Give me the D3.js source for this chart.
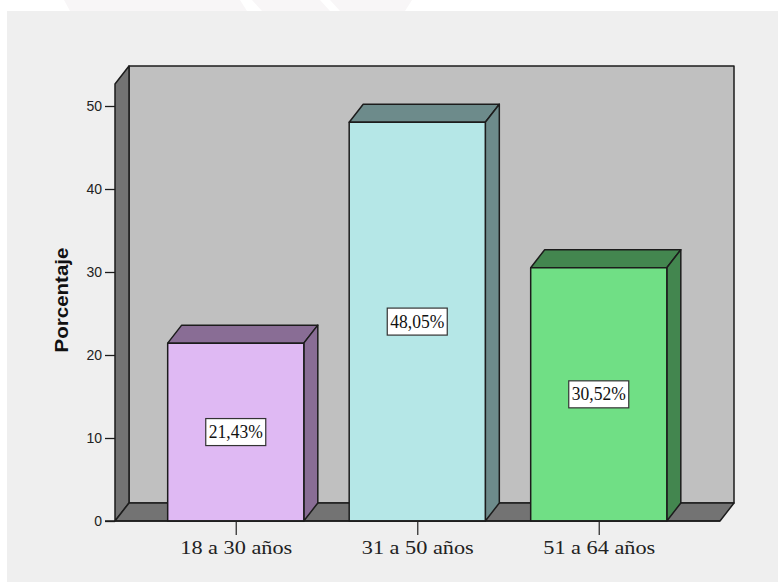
<!DOCTYPE html>
<html>
<head>
<meta charset="utf-8">
<script src="https://cdn.jsdelivr.net/npm/d3@7"></script>
<style>
body { margin: 0; background: #fff; }
svg { display: block; }
</style>
</head>
<body>
<div class="canva"></div>
<script>
const categories = ['18 a 30 años', '31 a 50 años', '51 a 64 años'];
const values = [21.43, 48.05, 30.52];
const valueLabels = ['21,43%', '48,05%', '30,52%'];
const frontColors = ['#dfb9f3', '#b5e7e7', '#70df85'];
const sideColors = ['#896d95', '#6d8b8b', '#43864f'];
const topColors = ['#896d95', '#6d8b8b', '#43864f'];
const yTicks = [0, 10, 20, 30, 40, 50];
const yMax = 50;

// 3d offset of the back wall
const dx = 14, dy = 18;
const lineColor = '#1c1c1c';

const svg = d3.select('.canva').append('svg')
  .attr('width', 778)
  .attr('height', 582);

// page background
svg.append('rect').attr('x', 7).attr('y', 11).attr('width', 771).attr('height', 571).attr('fill', '#efefef');
svg.append('path').attr('d', 'M64 0H240L247 11H70Z M252 0H320L330 11H262Z M330 0H412L405 11H340Z').attr('fill', '#f8f6f7');

const x = d3.scaleBand().domain(categories).range([145, 689.5]).paddingInner(0.25).paddingOuter(0.125);
const y = d3.scaleLinear().domain([0, yMax]).range([521, 106]);

const plotLeft = 115, plotRight = 720, base = y(0), plotTop = 84;

// walls
const walls = svg.append('g').attr('stroke', lineColor).attr('stroke-width', 1.5).attr('stroke-linejoin', 'round');
walls.append('rect')
  .attr('x', plotLeft + dx).attr('y', plotTop - dy)
  .attr('width', plotRight - plotLeft).attr('height', base - plotTop)
  .attr('fill', '#c0c0c0');
walls.append('path')
  .attr('d', `M${plotLeft} ${base}V${plotTop}L${plotLeft + dx} ${plotTop - dy}V${base - dy}Z`)
  .attr('fill', '#737373');
walls.append('path')
  .attr('d', `M${plotLeft} ${base}L${plotLeft + dx} ${base - dy}H${plotRight + dx}L${plotRight} ${base}Z`)
  .attr('fill', '#737373');

// bars
const bars = svg.append('g').selectAll('g')
  .data(values)
  .enter().append('g')
  .attr('stroke', lineColor)
  .attr('stroke-width', 1.5)
  .attr('stroke-linejoin', 'round');

bars.append('path')
  .attr('fill', (d, i) => topColors[i])
  .attr('d', (d, i) => {
    const x0 = x(categories[i]), w = x.bandwidth(), yy = y(d);
    return `M${x0} ${yy}L${x0 + dx} ${yy - dy}H${x0 + w + dx}L${x0 + w} ${yy}Z`;
  });
bars.append('path')
  .attr('fill', (d, i) => sideColors[i])
  .attr('d', (d, i) => {
    const x1 = x(categories[i]) + x.bandwidth(), yy = y(d);
    return `M${x1} ${yy}L${x1 + dx} ${yy - dy}V${base - dy}L${x1} ${base}Z`;
  });
bars.append('rect')
  .attr('fill', (d, i) => frontColors[i])
  .attr('x', (d, i) => x(categories[i]))
  .attr('y', d => y(d))
  .attr('width', x.bandwidth())
  .attr('height', d => base - y(d));

// value labels
const labels = svg.append('g').selectAll('g')
  .data(values)
  .enter().append('g')
  .attr('transform', (d, i) => `translate(${x(categories[i]) + x.bandwidth() / 2},${(y(d) + base) / 2})`);
labels.append('rect')
  .attr('x', -30).attr('y', -13.5).attr('width', 60).attr('height', 27)
  .attr('fill', '#fff').attr('stroke', '#333').attr('stroke-width', 1.2);
labels.append('text')
  .attr('text-anchor', 'middle')
  .attr('y', 6)
  .attr('font-family', '"Liberation Serif", serif')
  .attr('font-size', 18)
  .attr('textLength', 54)
  .attr('lengthAdjust', 'spacingAndGlyphs')
  .attr('fill', '#111')
  .text((d, i) => valueLabels[i]);

// axes
const yAxis = svg.append('g')
  .attr('transform', `translate(${plotLeft},0)`)
  .call(d3.axisLeft(y).tickValues(yTicks).tickSize(10).tickSizeOuter(0).tickPadding(3));
yAxis.select('.domain').remove();
yAxis.selectAll('line').attr('stroke', lineColor).attr('stroke-width', 1.3);
yAxis.selectAll('text')
  .attr('font-family', '"Liberation Sans", Arial, sans-serif')
  .attr('font-size', 14)
  .attr('fill', '#222');

const xPoint = d3.scalePoint().domain(categories).range([x(categories[0]) + x.bandwidth() / 2, x(categories[2]) + x.bandwidth() / 2]);
const xAxis = svg.append('g')
  .attr('transform', `translate(0,${base})`)
  .call(d3.axisBottom(xPoint).tickSize(14).tickSizeOuter(0).tickPadding(6));
xAxis.select('.domain').remove();
xAxis.selectAll('line').attr('stroke', '#333').attr('stroke-width', 1.3);
xAxis.selectAll('text')
  .attr('font-family', '"Liberation Serif", serif')
  .attr('font-size', 19)
  .attr('textLength', 112)
  .attr('lengthAdjust', 'spacingAndGlyphs')
  .attr('fill', '#222');

svg.append('line')
  .attr('x1', plotLeft - 10).attr('x2', plotRight)
  .attr('y1', base).attr('y2', base)
  .attr('stroke', lineColor).attr('stroke-width', 1.5);

svg.append('text')
  .attr('transform', 'translate(68,300) rotate(-90)')
  .attr('text-anchor', 'middle')
  .attr('font-family', '"Liberation Sans", Arial, sans-serif')
  .attr('font-weight', 'bold')
  .attr('font-size', 18)
  .attr('textLength', 105)
  .attr('lengthAdjust', 'spacingAndGlyphs')
  .attr('fill', '#111')
  .text('Porcentaje');
</script>
</body>
</html>
